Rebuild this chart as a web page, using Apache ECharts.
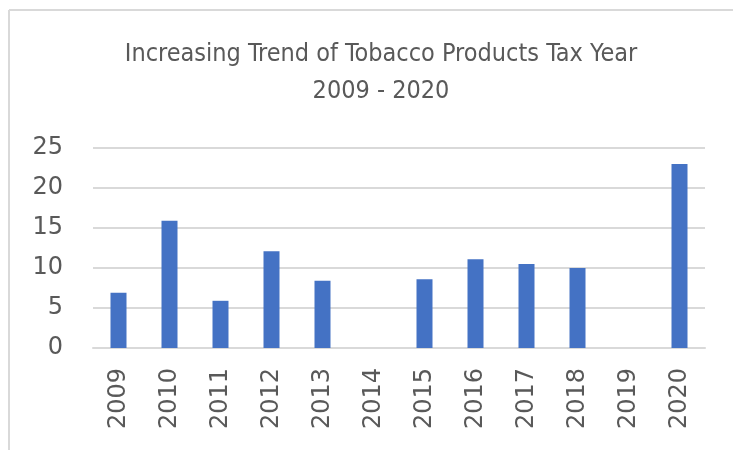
<!DOCTYPE html>
<html>
<head>
<meta charset="utf-8">
<script src="https://cdn.jsdelivr.net/npm/echarts@6/dist/echarts.min.js"></script>
<style>
html,body{margin:0;padding:0;background:#fff;}
#chart{width:733px;height:450px;}
</style>
</head>
<body>
<div id="chart"></div>
<script>
const categories = ['2009','2010','2011','2012','2013','2014','2015','2016','2017','2018','2019','2020'];
const taxValues = [6.9, 15.9, 5.9, 12.1, 8.4, 0, 8.6, 11.1, 10.5, 10.0, 0, 23.0];
const titleLines = ['Increasing Trend of Tobacco Products Tax Year', '2009 - 2020'];

const chart = echarts.init(document.getElementById('chart'), null, {renderer: 'canvas'});
chart.setOption({
  animation: false,
  backgroundColor: '#ffffff',
  title: {
    text: titleLines.join('\n'),
    left: 376,
    textAlign: 'center',
    top: 31,
    textStyle: {
      fontFamily: '"Liberation Sans Narrow", "DejaVu Sans Condensed", "Open Sans", sans-serif',
      fontSize: 25,
      fontWeight: 'normal',
      color: '#595959',
      lineHeight: 37
    }
  },
  graphic: [
    {type: 'line', shape: {x1: 9, y1: 10, x2: 9, y2: 450}, style: {stroke: '#d9d9d9', lineWidth: 2}},
    {type: 'line', shape: {x1: 9, y1: 10, x2: 733, y2: 10}, style: {stroke: '#d9d9d9', lineWidth: 2}}
  ],
  grid: {left: 93, right: 28, top: 148, bottom: 102, containLabel: false},
  xAxis: {
    type: 'category',
    data: categories,
    axisLine: {show: true, lineStyle: {color: '#d9d9d9', width: 2}},
    axisTick: {show: false},
    axisLabel: {
      rotate: 90,
      margin: 20,
      interval: 0,
      fontFamily: '"DejaVu Sans", sans-serif',
      fontSize: 24,
      color: '#595959'
    }
  },
  yAxis: {
    type: 'value',
    min: 0,
    max: 25,
    interval: 5,
    axisLine: {show: false},
    axisTick: {show: false},
    splitLine: {lineStyle: {color: '#d9d9d9', width: 2}},
    axisLabel: {
      margin: 30,
      fontFamily: '"DejaVu Sans", sans-serif',
      fontSize: 24,
      color: '#595959'
    }
  },
  series: [{
    type: 'bar',
    data: taxValues,
    barWidth: 16,
    itemStyle: {color: '#4472C4'}
  }]
});
</script>
</body>
</html>
